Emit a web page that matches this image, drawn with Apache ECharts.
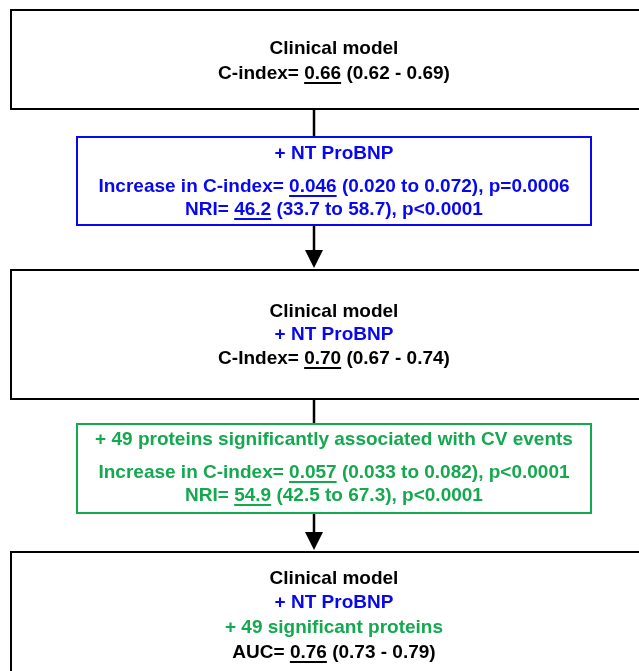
<!DOCTYPE html>
<html>
<head>
<meta charset="utf-8">
<script src="https://cdn.jsdelivr.net/npm/echarts@6/dist/echarts.min.js"></script>
<style>
html,body{margin:0;padding:0;background:#fff;}
#chart{width:639px;height:671px;}
</style>
</head>
<body>
<div id="chart"></div>
<script>
// ---- data ----
const baseC = ['0.66', '0.62', '0.69'];
const ntC = ['0.70', '0.67', '0.74'];
const fullAUC = ['0.76', '0.73', '0.79'];
const ntInc = ['0.046', '0.020', '0.072', 'p=0.0006'];
const ntNRI = ['46.2', '33.7', '58.7', 'p<0.0001'];
const protInc = ['0.057', '0.033', '0.082', 'p<0.0001'];
const protNRI = ['54.9', '42.5', '67.3', 'p<0.0001'];
const nProteins = 49;

// ---- style ----
const BLACK = '#000000';
const BLUE = '#0808f0';
const GREEN = '#14a84f';
const FONT_SIZE = 19;
const FONT_FAMILY = '"Liberation Sans", Arial, sans-serif';
const FONT = 'bold ' + FONT_SIZE + 'px ' + FONT_FAMILY;

const TEXT_CX = 334;
const LINE_X = 314;
const DY = 2;

const measureCtx = document.createElement('canvas').getContext('2d');
measureCtx.font = FONT;
function w(t) { return measureCtx.measureText(t).width; }

// line spec: array of [text, color, underline]
function lineGraphics(segs, y, out) {
  y += DY;
  const total = segs.reduce((s, g) => s + w(g[0]), 0);
  let x = TEXT_CX - total / 2;
  segs.forEach(g => {
    const sw = w(g[0]);
    out.push({
      type: 'text', x: x, y: y,
      style: { text: g[0], fill: g[1], font: FONT, textAlign: 'left', textVerticalAlign: 'middle' },
      z: 10
    });
    if (g[2]) {
      out.push({
        type: 'line', shape: { x1: x, y1: y + 9, x2: x + sw, y2: y + 9 },
        style: { stroke: g[1], lineWidth: 1.8 }, z: 10
      });
    }
    x += sw;
  });
}

const els = [];
function box(x1, y1, x2, y2, color) {
  els.push({ type: 'rect', shape: { x: x1, y: y1, width: x2 - x1, height: y2 - y1 },
    style: { fill: 'none', stroke: color, lineWidth: 2 }, z: 5 });
}
function vline(y1, y2) {
  els.push({ type: 'line', shape: { x1: LINE_X, y1: y1, x2: LINE_X, y2: y2 },
    style: { stroke: BLACK, lineWidth: 2.5 }, z: 4 });
}
function arrow(y1, tip) {
  vline(y1, tip - 12);
  els.push({ type: 'polygon', shape: { points: [[LINE_X - 9, tip - 18], [LINE_X + 9, tip - 18], [LINE_X, tip]] },
    style: { fill: BLACK }, z: 4 });
}

// Box 1
box(11, 10, 658, 109, BLACK);
lineGraphics([['Clinical model', BLACK]], 47, els);
lineGraphics([['C-index= ', BLACK], [baseC[0], BLACK, true], [' (' + baseC[1] + ' - ' + baseC[2] + ')', BLACK]], 72, els);
vline(109, 137);

// Blue box
box(77, 137, 591, 225, BLUE);
lineGraphics([['+ NT ProBNP', BLUE]], 152, els);
lineGraphics([['Increase in C-index= ', BLUE], [ntInc[0], BLUE, true], [' (' + ntInc[1] + ' to ' + ntInc[2] + '), ' + ntInc[3], BLUE]], 185, els);
lineGraphics([['NRI= ', BLUE], [ntNRI[0], BLUE, true], [' (' + ntNRI[1] + ' to ' + ntNRI[2] + '), ' + ntNRI[3], BLUE]], 208, els);
arrow(225, 268);

// Box 2
box(11, 270, 658, 399, BLACK);
lineGraphics([['Clinical model', BLACK]], 310, els);
lineGraphics([['+ NT ProBNP', BLUE]], 333, els);
lineGraphics([['C-Index= ', BLACK], [ntC[0], BLACK, true], [' (' + ntC[1] + ' - ' + ntC[2] + ')', BLACK]], 357, els);
vline(399, 424);

// Green box
box(77, 424, 591, 513, GREEN);
lineGraphics([['+ ' + nProteins + ' proteins significantly associated with CV events', GREEN]], 438, els);
lineGraphics([['Increase in C-index= ', GREEN], [protInc[0], GREEN, true], [' (' + protInc[1] + ' to ' + protInc[2] + '), ' + protInc[3], GREEN]], 471, els);
lineGraphics([['NRI= ', GREEN], [protNRI[0], GREEN, true], [' (' + protNRI[1] + ' to ' + protNRI[2] + '), ' + protNRI[3], GREEN]], 494, els);
arrow(513, 550);

// Box 3
box(11, 552, 658, 690, BLACK);
lineGraphics([['Clinical model', BLACK]], 577, els);
lineGraphics([['+ NT ProBNP', BLUE]], 601, els);
lineGraphics([['+ ' + nProteins + ' significant proteins', GREEN]], 626, els);
lineGraphics([['AUC= ', BLACK], [fullAUC[0], BLACK, true], [' (' + fullAUC[1] + ' - ' + fullAUC[2] + ')', BLACK]], 651, els);

const chart = echarts.init(document.getElementById('chart'), null, { renderer: 'canvas' });
chart.setOption({
  backgroundColor: '#ffffff',
  animation: false,
  graphic: { elements: els }
});
</script>
</body>
</html>
